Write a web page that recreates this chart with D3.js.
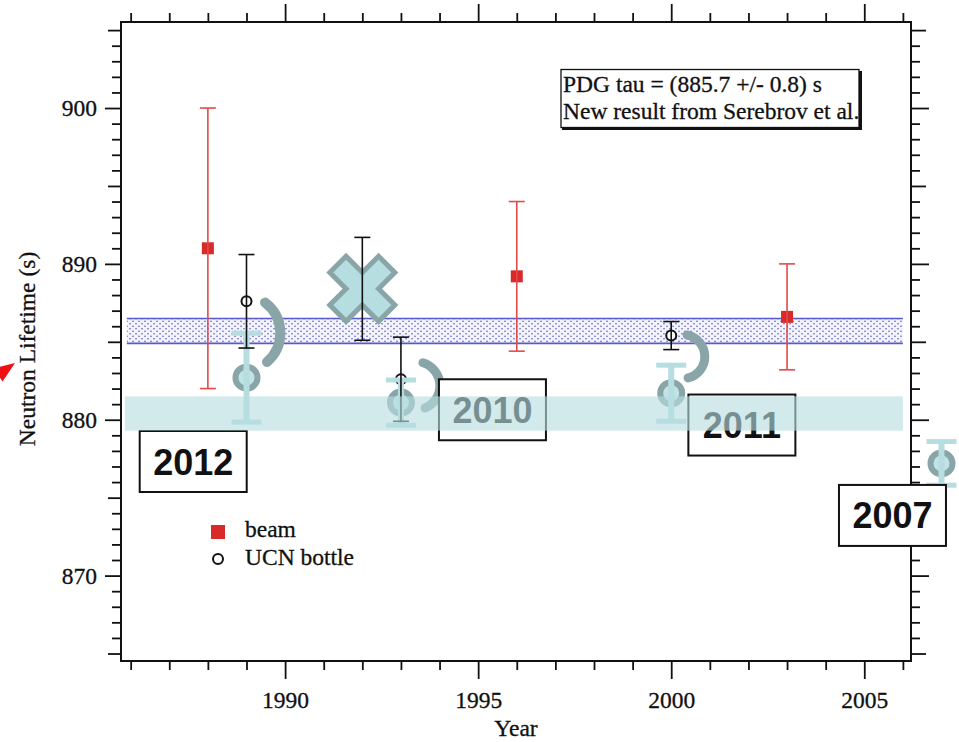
<!DOCTYPE html>
<html><head><meta charset="utf-8">
<script src="https://cdn.jsdelivr.net/npm/d3@7"></script>
<style>
html,body{margin:0;padding:0;background:#fff;}
svg{display:block;}
</style></head><body>
<svg id="chart" width="959" height="742"></svg>
<script>
// Neutron lifetime measurements (s) by year of publication
const beamYears = [1988, 1996, 2003];
const beamValues = [891.0, 889.2, 886.6];
const beamErrors = [9.0, 4.8, 3.4];

const bottleYears = [1989, 1992, 1993, 2000];
const bottleValues = [887.6, 888.4, 882.6, 885.4];
const bottleErrors = [3.0, 3.3, 2.7, 0.9];

// revised / newer bottle results, labelled by year
const newYears = [1989, 1993, 2000, 2007];
const newValues = [882.7, 881.1, 881.7, 877.2];
const newErrors = [2.85, 1.45, 1.8, 1.4];
const newLabels = ["2012", "2010", "2011", "2007"];

// withdrawn result
const crossedYear = 1992;
const crossedValue = 888.4;

// shifts from old to new values
const shiftYears = [1989, 1993, 2000];
const shiftFrom = [887.6, 882.6, 885.4];
const shiftTo = [882.7, 881.1, 881.7];

const pdgValue = 885.7, pdgError = 0.8;
const newAvgValue = 880.4, newAvgError = 1.1;

const xTickMajor = [1990, 1995, 2000, 2005];
const yTickMajor = [870, 880, 890, 900];
const yTickMid = [865, 875, 885, 895, 905];
const infoLines = ["PDG tau = (885.7 +/- 0.8) s", "New result from Serebrov et al."];
const legendLabels = ["beam", "UCN bottle"];

const SERIF = "'Liberation Serif','Times New Roman',serif";
const SANS = "'Liberation Sans',Arial,sans-serif";
const FS = 23.5;
const RED = "#d92a2a", RED_BAR = "#e24a4a", INK = "#111";
const TEAL = "#b6dde0", TEAL_DARK = "#8aa5a7";

const svg = d3.select("#chart");
const x = d3.scaleLinear().domain([1985.75, 2006.21]).range([121, 911]);
const y = d3.scaleLinear().domain([864.52, 905.52]).range([661, 22]);
const [X0, X1] = x.range(), [Y1, Y0] = y.range();

function serif(sel) {
  return sel.attr("font-family", SERIF).attr("font-size", FS).attr("fill", INK)
    .attr("stroke", INK).attr("stroke-width", 0.3);
}

// ---------- dotted PDG band ----------
const defs = svg.append("defs");
const pat = defs.append("pattern").attr("id", "dots").attr("patternUnits", "userSpaceOnUse")
  .attr("width", 6).attr("height", 5);
pat.append("rect").attr("width", 6).attr("height", 5).attr("fill", "#f3f3fd");
pat.append("circle").attr("cx", 1).attr("cy", 1.2).attr("r", 0.75).attr("fill", "#4b4bc0");
pat.append("circle").attr("cx", 4).attr("cy", 3.7).attr("r", 0.75).attr("fill", "#4b4bc0");

const bandX = [1985.9, 2006.0];
svg.append("rect")
  .attr("x", x(bandX[0])).attr("width", x(bandX[1]) - x(bandX[0]))
  .attr("y", y(pdgValue + pdgError)).attr("height", y(pdgValue - pdgError) - y(pdgValue + pdgError))
  .attr("fill", "url(#dots)");
[pdgValue + pdgError, pdgValue - pdgError].forEach(v => {
  svg.append("line").attr("x1", x(bandX[0])).attr("x2", x(bandX[1]))
    .attr("y1", y(v)).attr("y2", y(v)).attr("stroke", "#5a5ac8").attr("stroke-width", 1.6);
});

// ---------- axes ----------
function styleAxis(g) {
  g.select(".domain").remove();
  g.selectAll(".tick line").attr("stroke", INK).attr("stroke-width", 1.8);
  g.selectAll(".tick text").call(serif);
}
const xMinor = d3.range(1986, 2007).filter(v => !xTickMajor.includes(v));
const yMinor = d3.range(865, 906).filter(v => !yTickMajor.includes(v) && !yTickMid.includes(v));

// bottom
svg.append("g").attr("transform", `translate(0,${Y1})`)
  .call(d3.axisBottom(x).tickValues(xMinor).tickSize(9).tickFormat("")).call(styleAxis);
svg.append("g").attr("transform", `translate(0,${Y1})`)
  .call(d3.axisBottom(x).tickValues(xTickMajor).tickSize(18).tickPadding(12).tickFormat(d3.format("d"))).call(styleAxis);
// top
svg.append("g").attr("transform", `translate(0,${Y0})`)
  .call(d3.axisTop(x).tickValues(xMinor).tickSize(9).tickFormat("")).call(styleAxis);
svg.append("g").attr("transform", `translate(0,${Y0})`)
  .call(d3.axisTop(x).tickValues(xTickMajor).tickSize(18).tickFormat("")).call(styleAxis);
// left
svg.append("g").attr("transform", `translate(${X0},0)`)
  .call(d3.axisLeft(y).tickValues(yMinor).tickSize(9).tickFormat("")).call(styleAxis);
svg.append("g").attr("transform", `translate(${X0},0)`)
  .call(d3.axisLeft(y).tickValues(yTickMid).tickSize(13).tickFormat("")).call(styleAxis);
svg.append("g").attr("transform", `translate(${X0},0)`)
  .call(d3.axisLeft(y).tickValues(yTickMajor).tickSize(16).tickPadding(8).tickFormat(d3.format("d"))).call(styleAxis);
// right
svg.append("g").attr("transform", `translate(${X1},0)`)
  .call(d3.axisRight(y).tickValues(yMinor).tickSize(9).tickFormat("")).call(styleAxis);
svg.append("g").attr("transform", `translate(${X1},0)`)
  .call(d3.axisRight(y).tickValues(yTickMid).tickSize(15).tickFormat("")).call(styleAxis);
svg.append("g").attr("transform", `translate(${X1},0)`)
  .call(d3.axisRight(y).tickValues(yTickMajor).tickSize(18).tickFormat("")).call(styleAxis);

// frame
svg.append("rect").attr("x", X0).attr("y", Y0).attr("width", X1 - X0).attr("height", Y1 - Y0)
  .attr("fill", "none").attr("stroke", INK).attr("stroke-width", 2);

// axis titles
svg.append("text").attr("x", (X0 + X1) / 2).attr("y", 736).attr("text-anchor", "middle")
  .call(serif).text("Year");
svg.append("text").attr("transform", "translate(35,349) rotate(-90)").attr("text-anchor", "middle")
  .call(serif).text("Neutron Lifetime (s)");

// ---------- original markers ----------
const beam = beamYears.map((d, i) => ({year: d, value: beamValues[i], err: beamErrors[i]}));
const bottle = bottleYears.map((d, i) => ({year: d, value: bottleValues[i], err: bottleErrors[i]}));
const fresh = newYears.map((d, i) => ({year: d, value: newValues[i], err: newErrors[i], label: newLabels[i]}));

svg.append("g").selectAll("rect").data(beam).join("rect")
  .attr("x", d => x(d.year) - 6).attr("y", d => y(d.value) - 6).attr("width", 12).attr("height", 12)
  .attr("fill", RED);
svg.append("g").selectAll("circle").data(bottle).join("circle")
  .attr("cx", d => x(d.year)).attr("cy", d => y(d.value)).attr("r", 5)
  .attr("fill", "#fff").attr("stroke", INK).attr("stroke-width", 2);

// withdrawn result: big cross
svg.append("path")
  .attr("d", d3.symbol(d3.symbolCross).size(5 * 23 * 23)())
  .attr("transform", `translate(${x(crossedYear)},${y(crossedValue)}) rotate(45)`)
  .attr("fill", TEAL).attr("stroke", TEAL_DARK).attr("stroke-width", 5).attr("stroke-linejoin", "miter");

// ---------- newer results ----------
const gNew = svg.append("g");
gNew.selectAll("circle").data(fresh).join("circle")
  .attr("cx", d => x(d.year)).attr("cy", d => y(d.value)).attr("r", 11)
  .attr("fill", "#c2e3e5").attr("stroke", TEAL_DARK).attr("stroke-width", 6);
gNew.selectAll("line.v").data(fresh).join("line").attr("class", "v")
  .attr("x1", d => x(d.year)).attr("x2", d => x(d.year))
  .attr("y1", d => y(d.value + d.err)).attr("y2", d => y(d.value - d.err))
  .attr("stroke", TEAL).attr("stroke-width", 6);
gNew.selectAll("line.cap").data(fresh.flatMap(d => [d.value + d.err, d.value - d.err].map(v => ({year: d.year, v}))))
  .join("line").attr("class", "cap")
  .attr("x1", d => x(d.year) - 15).attr("x2", d => x(d.year) + 15)
  .attr("y1", d => y(d.v)).attr("y2", d => y(d.v))
  .attr("stroke", TEAL).attr("stroke-width", 5);

// ---------- error bars of original results ----------
function errorBars(data, color) {
  const g = svg.append("g").attr("stroke", color).attr("stroke-width", 1.6);
  g.selectAll("line.v").data(data).join("line").attr("class", "v")
    .attr("x1", d => x(d.year)).attr("x2", d => x(d.year))
    .attr("y1", d => y(d.value + d.err)).attr("y2", d => y(d.value - d.err));
  g.selectAll("line.cap").data(data.flatMap(d => [d.value + d.err, d.value - d.err].map(v => ({year: d.year, v}))))
    .join("line").attr("class", "cap")
    .attr("x1", d => x(d.year) - 8).attr("x2", d => x(d.year) + 8)
    .attr("y1", d => y(d.v)).attr("y2", d => y(d.v));
}
errorBars(beam, RED_BAR);
errorBars(bottle, INK);

// ---------- shift arcs from old to new value ----------
// [start dx, start dy, end dx, end dy, radius, width] relative to the points
const arcLayout = [[18.5, 1.3, 20.5, -15.7, 38, 10], [22, -16.4, 24, 5.4, 24, 9], [15.8, -0.6, 16.8, -15.3, 22, 9]];
svg.append("g").selectAll("path").data(shiftYears).join("path")
  .attr("d", (d, i) => {
    const L = arcLayout[i], cx = x(d);
    const sx = cx + L[0], sy = y(shiftFrom[i]) + L[1];
    const ex = cx + L[2], ey = y(shiftTo[i]) + L[3];
    return `M${sx},${sy}A${L[4]},${L[4]} 0 0 1 ${ex},${ey}`;
  })
  .attr("fill", "none").attr("stroke", TEAL_DARK)
  .attr("stroke-width", (d, i) => arcLayout[i][5]).attr("stroke-linecap", "round");

// ---------- year labels ----------
// label box centres in data units
const labelAnchor = [[1987.62, 877.32], [1995.37, 880.64], [2001.83, 879.66], [2005.73, 873.86]];
const gLab = svg.append("g");
fresh.forEach((d, i) => {
  const cx = x(labelAnchor[i][0]), cy = y(labelAnchor[i][1]);
  gLab.append("rect").attr("x", cx - 53.5).attr("y", cy - 30.5).attr("width", 107).attr("height", 61)
    .attr("fill", "#fff").attr("stroke", INK).attr("stroke-width", 2);
  gLab.append("text").attr("x", cx).attr("y", cy + 13).attr("text-anchor", "middle")
    .attr("font-family", SANS).attr("font-weight", "bold").attr("font-size", 36).attr("fill", INK)
    .text(d.label);
});

// ---------- band of the new average (translucent) ----------
svg.append("rect")
  .attr("x", x(1985.85)).attr("width", x(2006.0) - x(1985.85))
  .attr("y", y(newAvgValue + newAvgError)).attr("height", y(newAvgValue - newAvgError) - y(newAvgValue + newAvgError))
  .attr("fill", "rgb(183,221,224)").attr("opacity", 0.62);

// ---------- info box ----------
const info = svg.append("g");
info.append("rect").attr("x", 562).attr("y", 71).attr("width", 300).attr("height", 59).attr("fill", INK);
info.append("rect").attr("x", 561).attr("y", 69.5).attr("width", 298).attr("height", 58)
  .attr("fill", "#fff").attr("stroke", INK).attr("stroke-width", 1.3);
info.selectAll("text").data(infoLines).join("text")
  .attr("x", 563).attr("y", (d, i) => 92 + i * 27)
  .call(serif).text(d => d);

// ---------- legend ----------
const leg = svg.append("g");
leg.append("rect").attr("x", 211).attr("y", 525).attr("width", 14).attr("height", 14).attr("fill", RED);
leg.append("circle").attr("cx", 218).attr("cy", 559).attr("r", 5).attr("fill", "#fff")
  .attr("stroke", INK).attr("stroke-width", 2);
leg.selectAll("text").data(legendLabels).join("text")
  .attr("x", 245).attr("y", (d, i) => 537 + i * 28)
  .call(serif).text(d => d);

// ---------- red pointer at left edge ----------
svg.append("path")
  .attr("d", d3.line()([[15, 363], [2.6, 381.5], [-6.6, 368.5]]) + "Z")
  .attr("fill", "#ee1111");
</script>
</body></html>
